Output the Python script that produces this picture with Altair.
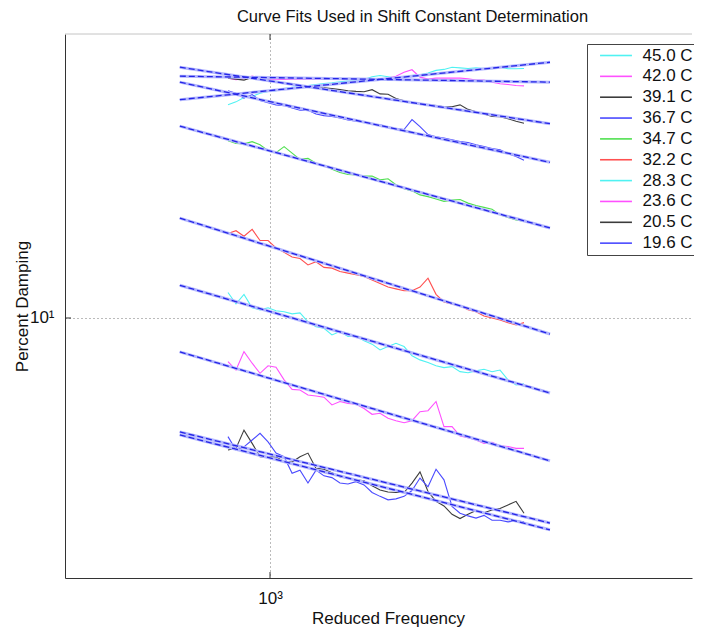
import altair as alt
import pandas as pd

# Reduced frequency sample points shared by all measured curves
freq = [824, 855, 887, 921, 955, 991, 1028, 1067, 1107, 1148, 1191, 1236, 1282,
        1330, 1380, 1432, 1486, 1542, 1600, 1660, 1722, 1786, 1854, 1923, 1995,
        2070, 2148, 2228, 2312, 2399, 2489, 2582, 2679, 2780, 2884, 2992, 3105, 3221]

labels = ["45.0 C", "42.0 C", "39.1 C", "36.7 C", "34.7 C",
          "32.2 C", "28.3 C", "23.6 C", "20.5 C", "19.6 C"]
colors = ["#50f2f2", "#ff50ff", "#3c3c3c", "#4a4aff", "#50e050",
          "#ff5050", "#50f2f2", "#ff50ff", "#3c3c3c", "#4a4aff"]

d_450 = [27.8, 28.2, 28.8, 28.95, 29.4, 29.65, 29.75, 30.05, 30.25, 30.35, 30.5, 30.65, 30.8,
         30.9, 31.05, 31.15, 31.2, 31.4, 31.8, 32.0, 31.8, 31.6, 31.8, 32.0, 32.1,
         32.4, 32.8, 32.95, 33.3, 33.2, 33.1, 33.2, 33.1, 33.05, 33.3, 33.05, 33.05, 33.1]
d_420 = [31.6, 31.35, 31.5, 31.9, 31.6, 31.45, 31.45, 31.4, 31.45, 31.45, 31.45, 31.45, 31.4,
         31.45, 31.45, 31.4, 31.45, 31.45, 31.45, 31.45, 31.6, 31.9, 32.5, 32.9, 31.75,
         31.45, 31.6, 31.6, 31.6, 31.6, 31.5, 31.3, 31.3, 30.98, 30.75, 30.65, 30.5, 30.45]
d_391 = [31.6, 31.45, 31.3, 31.7, 31.45, 31.3, 31.05, 30.9, 30.75, 30.5, 30.35, 30.3, 30.15,
         30.05, 29.9, 29.75, 29.65, 29.6, 29.9, 29.3, 29.25, 28.65, 28.35, 28.1, 27.9,
         27.8, 27.7, 27.55, 27.55, 27.8, 27.2, 26.9, 26.6, 26.3, 26.25, 26.0, 25.7, 25.45]
d_367 = [29.75, 29.4, 28.7, 29.2, 28.4, 28.1, 27.8, 27.7, 27.4, 27.1, 27.1, 26.6, 26.4,
         26.3, 26.1, 25.85, 25.7, 25.6, 25.35, 25.25, 25.0, 24.8, 24.7, 25.9, 25.05,
         24.1, 23.85, 23.7, 23.5, 23.3, 23.2, 22.95, 22.75, 22.55, 22.4, 22.0, 21.7, 21.3]
d_347 = [23.4, 23.1, 23.05, 23.3, 22.95, 22.3, 22.1, 22.75, 22.05, 21.4, 21.5, 21.0, 20.8,
         20.4, 20.1, 19.9, 19.85, 19.75, 19.75, 19.4, 19.5, 18.95, 18.6, 18.4, 18.05,
         17.9, 17.7, 17.5, 17.6, 17.65, 17.35, 17.15, 17.0, 16.85, 16.4, 16.2, 16.0, 15.9]
d_322 = [15.0, 15.2, 14.8, 15.3, 14.5, 14.5, 14.0, 13.7, 13.4, 13.3, 12.9, 13.1, 12.75,
         12.7, 12.5, 12.4, 12.3, 12.2, 12.0, 11.8, 11.6, 11.5, 11.4, 11.4, 11.6,
         12.1, 11.2, 10.8, 10.7, 10.6, 10.4, 10.3, 10.1, 10.0, 9.9, 9.78, 9.67, 9.78]
d_283 = [11.3, 10.7, 11.2, 10.5, 10.4, 10.5, 10.35, 10.3, 10.2, 10.25, 9.82, 9.59, 9.52,
         9.22, 9.37, 9.15, 9.18, 8.96, 8.82, 8.58, 8.72, 8.86, 8.72, 8.34, 8.18,
         8.08, 7.95, 7.88, 7.92, 7.73, 7.69, 7.76, 7.82, 7.73, 7.79, 7.43, 7.25, 7.29]
d_236 = [8.11, 7.79, 8.51, 8.05, 7.67, 7.95, 7.90, 7.43, 7.10, 7.08, 6.91, 6.88, 6.84,
         6.59, 6.70, 6.64, 6.61, 6.48, 6.30, 6.33, 6.18, 6.11, 6.05, 6.11, 6.38,
         6.41, 6.70, 5.94, 5.94, 5.68, 5.63, 5.57, 5.48, 5.51, 5.42, 5.40, 5.35, 5.35]
d_205 = [5.31, 5.35, 5.84, 5.48, 5.14, 5.13, 5.14, 5.02, 5.01, 5.14, 5.23, 4.86, 4.84,
         4.76, 4.67, 4.63, 4.60, 4.58, 4.47, 4.38, 4.34, 4.33, 4.33, 4.53, 4.78,
         4.35, 4.15, 4.06, 3.90, 3.82, 3.90, 3.97, 3.93, 3.98, 4.01, 4.08, 4.15, 3.92]
d_196 = [5.66, 5.31, 5.39, 5.57, 5.75, 5.52, 5.23, 5.14, 4.75, 4.82, 4.53, 4.82, 4.69,
         4.65, 4.53, 4.51, 4.56, 4.49, 4.33, 4.25, 4.18, 4.20, 4.25, 4.37, 4.64,
         4.45, 4.84, 4.60, 4.05, 3.92, 3.87, 3.83, 3.88, 3.79, 3.79, 3.76, 3.78, 3.76]
curves = [d_450, d_420, d_391, d_367, d_347, d_322, d_283, d_236, d_205, d_196]

# Straight-line (power law) fits: end points
fit_freq = [660, 3630]
fit_start = [28.5, 31.9, 33.3, 31.0, 25.1, 16.15, 11.7, 8.50, 5.79, 5.71]
fit_end = [34.1, 31.0, 25.4, 21.1, 15.4, 9.26, 6.98, 5.04, 3.74, 3.62]

rows = []
for lab, vals in zip(labels, curves):
    for f, v in zip(freq, vals):
        rows.append({"series": lab, "freq": f, "damping": v})
df = pd.DataFrame(rows)

fit_rows = []
for lab, a, b in zip(labels, fit_start, fit_end):
    fit_rows.append({"series": lab, "freq": fit_freq[0], "damping": a})
    fit_rows.append({"series": lab, "freq": fit_freq[1], "damping": b})
fdf = pd.DataFrame(fit_rows)

W, H = 627, 544
FONT = "Liberation Sans"

xscale = alt.Scale(type="log", domain=[389, 6982], nice=False)
yscale = alt.Scale(type="log", domain=[2.873, 39.05], nice=False)

xaxis = alt.Axis(values=[1000], labelExpr="'10³'", title="Reduced Frequency",
                 grid=True, gridDash=[1, 3], gridColor="#777", gridWidth=1,
                 ticks=False, labelPadding=12, labelFontSize=17, labelFont=FONT,
                 labelColor="#111", titleFontSize=17, titleFont=FONT, titleFontWeight="normal",
                 titleColor="#111", titleX=323, titleY=45, titleBaseline="alphabetic",
                 titleAlign="center", domainColor="#333")
yaxis = alt.Axis(values=[10], labelExpr="'10¹'", title="Percent Damping",
                 grid=True, gridDash=[1, 3], gridColor="#777", gridWidth=1,
                 ticks=False, labelPadding=11, labelFontSize=17, labelFont=FONT,
                 labelColor="#111", titleFontSize=17, titleFont=FONT, titleFontWeight="normal",
                 titleColor="#111", titleX=-38, titleY=272, titleAngle=270,
                 titleBaseline="alphabetic", titleAlign="center", domainColor="#333")

legend = alt.Legend(title=None, orient="none", legendX=522, legendY=10,
                    symbolType="M-2.9,0H2.9", symbolSize=121, symbolStrokeWidth=1.6,
                    symbolOffset=17.5, labelOffset=18, labelFontSize=17, labelFont=FONT,
                    labelColor="#111", strokeColor="#444", fillColor="white",
                    padding=3, rowPadding=2.85)

base_x = alt.X("freq:Q", scale=xscale, axis=xaxis)
base_y = alt.Y("damping:Q", scale=yscale, axis=yaxis)

data_lines = alt.Chart(df).mark_line(strokeWidth=1.1, clip=True).encode(
    x=base_x, y=base_y,
    color=alt.Color("series:N", scale=alt.Scale(domain=labels, range=colors), legend=legend),
)

fit_halo = alt.Chart(fdf).mark_line(strokeWidth=3, color="#b4b8ff", clip=True).encode(
    x="freq:Q", y="damping:Q", detail="series:N")
fit_dash = alt.Chart(fdf).mark_line(strokeWidth=1.3, color="#2424e6", strokeDash=[6, 3], clip=True).encode(
    x="freq:Q", y="damping:Q", detail="series:N")

top_border = alt.Chart().mark_rule(color="#c4c4c4", strokeWidth=1).encode(
    x=alt.value(0), x2=alt.value(W), y=alt.value(0))
tick_bottom = alt.Chart().mark_rule(color="#333").encode(
    x=alt.datum(1000), y=alt.value(H), y2=alt.value(H - 6))
tick_top = alt.Chart().mark_rule(color="#333").encode(
    x=alt.datum(1000), y=alt.value(0), y2=alt.value(6))
tick_left = alt.Chart().mark_rule(color="#333").encode(
    y=alt.datum(10), x=alt.value(0), x2=alt.value(6))

chart = alt.layer(data_lines, fit_halo, fit_dash, top_border, tick_bottom, tick_top, tick_left).properties(
    width=W, height=H,
    title=alt.TitleParams("Curve Fits Used in Shift Constant Determination", fontSize=16.5,
                          font=FONT, fontWeight="normal", color="#111", anchor="middle",
                          offset=8, dx=34),
    autosize=alt.AutoSizeParams(type="none"),
    padding={"left": 57, "top": 26, "right": 2, "bottom": 49},
).configure(font=FONT).configure_view(stroke="transparent", strokeWidth=0)

chart.save("out.html", embed_options={"renderer": "svg", "actions": False})
